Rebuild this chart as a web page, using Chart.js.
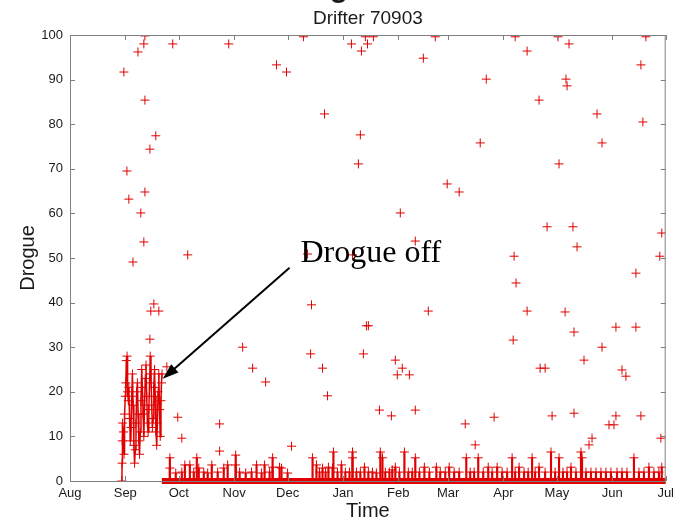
<!DOCTYPE html>
<html>
<head>
<meta charset="utf-8">
<script src="https://cdn.jsdelivr.net/npm/chart.js@4/dist/chart.umd.min.js"></script>
<style>
  body { margin: 0; background: #fff; }
  canvas { display: block; }
</style>
</head>
<body>
<canvas id="drogue-chart" width="679" height="520"></canvas>
<script>
// Drifter 70903 drogue sensor, x = days since 1 Aug

const MONTH_DAYS = [0, 31, 61, 92, 122, 153, 184, 212, 243, 273, 304, 334];
const MONTH_LABELS = ["Aug", "Sep", "Oct", "Nov", "Dec", "Jan", "Feb", "Mar", "Apr", "May", "Jun", "Jul"];
const Y_TICKS = [0, 10, 20, 30, 40, 50, 60, 70, 80, 90, 100];

// scattered readings
const scatterDays = [
  30.2, 31.9, 33.0, 35.3, 38.1, 39.7, 41.4, 42.0, 42.0, 42.0, 41.4, 44.8, 48.1, 47.0, 45.3, 49.8, 44.8,
  54.3, 57.6, 60.4, 62.7, 66.0, 83.9, 83.9, 89.0, 96.8, 102.4, 109.7, 115.8, 121.4, 124.2, 130.9,
  133.2, 158.4, 134.9, 135.4, 141.6, 142.7, 144.4, 157.8, 161.7, 162.8, 163.4, 164.5, 165.6, 166.2,
  167.3, 166.8, 170.1, 173.5, 180.2, 182.4, 183.5, 185.2, 186.3, 190.3, 193.6, 193.6, 198.1, 200.9,
  204.8, 211.5, 218.2, 221.6, 227.2, 230.0, 233.4, 237.8,
  249.6, 256.3, 263.0, 249.0, 250.1, 248.5, 256.3, 263.6, 266.4, 267.5, 270.3, 273.6, 274.2, 278.1,
  278.7, 279.8, 277.6, 282.0, 282.6, 284.3, 282.6, 288.2, 295.5, 298.3, 298.3, 306.1, 306.1, 309.5,
  311.7, 317.3, 317.3, 320.1, 320.1, 321.2, 322.9, 330.7, 331.8, 331.3, 292.7, 291.0, 302.2, 305.0
];
const scatterVals = [
  91.7, 69.5, 63.2, 49.1, 96.2, 60.1, 98.0, 99.8, 85.4, 64.8, 53.6, 74.4, 77.4, 39.7, 38.1, 38.1, 31.8,
  25.6, 98.0, 14.3, 9.6, 50.7, 12.8, 6.7, 98.0, 30.0, 25.3, 22.2, 93.3, 91.7, 7.8, 99.6,
  50.9, 50.7, 28.5, 39.5, 25.3, 82.3, 19.1, 98.0, 71.1, 77.6, 96.4, 28.5, 99.6, 34.8,
  34.8, 98.0, 99.6, 15.9, 14.6, 27.1, 23.8, 60.1, 25.3, 23.8, 53.8, 15.9, 94.8, 38.1,
  99.6, 66.6, 64.8, 12.8, 8.1, 75.8, 90.1, 14.3,
  99.6, 96.4, 85.4, 50.4, 44.4, 31.6, 38.1, 25.3, 25.3, 57.0, 14.6, 99.6, 71.1, 90.1,
  88.6, 98.0, 37.9, 57.0, 33.4, 52.5, 15.2, 27.1, 82.3, 75.8, 30.0, 34.5, 14.6, 24.9,
  23.5, 46.6, 34.5, 14.6, 93.3, 80.5, 99.6, 50.4, 55.6, 9.6, 9.6, 8.1, 12.6, 12.6
];

// early September, drogue still attached
const clusterDays = [
  29.1, 29.2, 29.3, 29.5, 30.0, 30.3, 30.6, 31.0, 31.3, 31.6, 32.0, 32.3, 32.7, 33.0, 33.4, 33.8,
  34.2, 34.6, 35.0, 35.4, 35.8, 36.2, 36.6, 37.0, 37.4, 37.8, 38.2, 38.6, 39.0, 39.4, 39.8, 40.2,
  40.6, 41.0, 41.4, 41.8, 42.2, 42.6, 43.0, 43.4, 43.8, 44.2, 44.6, 45.0, 45.4, 45.8, 46.2, 46.6,
  47.0, 47.4, 47.8, 48.2, 48.6, 49.0, 49.4, 49.8, 50.2, 50.6, 51.0, 51.3, 51.6
];
const clusterVals = [
  0, 4, 9, 13, 11, 6, 15, 19, 22, 27, 28, 20, 18, 21, 14, 9,
  12, 19, 24, 17, 8, 4, 7, 13, 20, 22, 15, 9, 6, 11, 18, 25,
  21, 15, 10, 17, 23, 26, 19, 13, 11, 16, 22, 28, 24, 17, 12, 14,
  21, 25, 19, 11, 8, 13, 20, 24, 16, 10, 18, 22, 24
];

// drogue off: readings sit on zero with small spikes
const zeroDays = [51.5, 334];
const zeroVals = [0, 0];
const spikeDays = [
  56.0, 56.0, 59.3, 62.7, 64.4, 67.2, 69.4, 71.1, 72.2, 75.0, 77.2, 79.5, 82.8, 86.2, 88.4, 92.9, 92.9,
  95.1, 98.5, 101.8, 104.6, 107.4, 109.1, 111.9, 113.6, 113.6, 117.5, 118.6, 122.0,
  136.0, 138.2, 139.9, 141.6, 143.3, 144.9, 147.2, 147.7, 150.0, 152.2, 154.4, 156.7, 158.4, 158.4,
  160.6, 162.8, 165.1, 167.3, 169.6, 171.8, 174.0, 175.2, 176.8, 179.1, 180.7, 182.4, 184.7, 187.5,
  189.7, 191.9, 193.6, 195.9, 198.7, 201.5, 205.4, 207.6, 210.4, 212.6, 215.4, 218.2, 222.2, 224.4,
  226.6, 228.9, 231.7, 234.5, 236.7, 239.5, 242.3, 245.1, 247.9, 249.6, 251.8, 254.6, 256.9, 259.1,
  260.8, 263.0, 266.4, 269.7, 272.0, 274.2, 276.4, 278.7, 280.9, 283.7, 286.5, 287.1, 289.3, 292.1,
  294.9, 297.7, 300.5, 303.3, 306.7, 309.5, 312.3, 316.2, 319.0, 321.8, 324.6, 327.4, 330.2, 331.8
];
const spikeVals = [
  5.2, 2.9, 1.8, 2.0, 3.6, 3.6, 2.0, 5.2, 2.9, 2.0, 1.8, 3.6, 2.0, 2.9, 3.6, 5.8, 3.6,
  2.0, 1.8, 2.0, 3.6, 1.8, 3.6, 2.0, 5.2, 3.1, 3.1, 2.9, 1.8,
  5.2, 3.6, 2.0, 2.9, 2.0, 3.1, 2.9, 6.5, 2.0, 3.6, 2.0, 2.0, 6.5, 5.2,
  2.0, 2.0, 3.1, 2.0, 2.0, 1.8, 6.5, 5.2, 2.0, 2.0, 2.5, 3.1, 2.0, 6.5,
  2.0, 2.0, 5.2, 2.0, 3.1, 2.0, 3.1, 2.0, 2.0, 3.1, 2.0, 2.0, 5.2, 2.0,
  2.0, 5.2, 2.0, 3.1, 2.0, 3.1, 2.0, 2.0, 5.2, 2.0, 3.1, 2.0, 2.0, 5.2,
  2.0, 3.1, 2.0, 6.5, 2.0, 5.2, 2.0, 2.0, 3.1, 2.0, 6.5, 5.2, 2.0, 2.0,
  2.0, 2.0, 2.0, 2.0, 2.0, 2.0, 2.0, 5.2, 2.0, 2.0, 3.1, 2.0, 2.0, 3.1
];

// annotation anchor points (data units)
const ARROW_TIP = [52.0, 22.9];
const ARROW_TAIL = [123.1, 47.8];
const NOTE_AT = [129.2, 49.1];

const RED = "#e00000";
const AXIS_GRAY = "#808080";
const TEXT_COLOR = "#1a1a1a";
const SANS = "'Liberation Sans', Arial, sans-serif";

const pts = (xs, ys) => xs.map((x, i) => ({ x, y: ys[i] }));

const boxTicks = {
  id: "boxTicks",
  afterDatasetsDraw(chart) {
    const { ctx, chartArea: a, scales } = chart;
    ctx.save();
    ctx.strokeStyle = AXIS_GRAY;
    ctx.lineWidth = 1;
    ctx.strokeRect(a.left + 0.5, a.top + 0.5, a.right - a.left - 1, a.bottom - a.top);
    ctx.beginPath();
    MONTH_DAYS.forEach((d) => {
      const px = Math.round(scales.x.getPixelForValue(d)) + 0.5;
      ctx.moveTo(px, a.bottom); ctx.lineTo(px, a.bottom - 5);
      ctx.moveTo(px, a.top); ctx.lineTo(px, a.top + 5);
    });
    Y_TICKS.forEach((v) => {
      const py = Math.round(scales.y.getPixelForValue(v)) + 0.5;
      ctx.moveTo(a.left, py); ctx.lineTo(a.left + 5, py);
      ctx.moveTo(a.right, py); ctx.lineTo(a.right - 5, py);
    });
    ctx.stroke();
    ctx.restore();
  },
  afterDraw(chart) {
    const { ctx, chartArea: a, scales } = chart;
    const cx = (a.left + a.right) / 2;
    ctx.save();
    ctx.fillStyle = TEXT_COLOR;
    ctx.textAlign = "center";
    ctx.textBaseline = "alphabetic";

    // bit of the slide heading cut off at the top
    ctx.font = "bold 30px " + SANS;
    ctx.fillText("g", 339, -3);

    ctx.font = "19px " + SANS;
    ctx.fillText("Drifter 70903", cx, 24);

    ctx.font = "20px " + SANS;
    ctx.fillText("Time", cx, 517);

    ctx.save();
    ctx.translate(34, (a.top + a.bottom) / 2);
    ctx.rotate(-Math.PI / 2);
    ctx.fillText("Drogue", 0, 0);
    ctx.restore();

    // "Drogue off" arrow
    const tx = scales.x.getPixelForValue(ARROW_TIP[0]);
    const ty = scales.y.getPixelForValue(ARROW_TIP[1]);
    const sx = scales.x.getPixelForValue(ARROW_TAIL[0]);
    const sy = scales.y.getPixelForValue(ARROW_TAIL[1]);
    const ang = Math.atan2(ty - sy, tx - sx);
    const head = 17;
    ctx.strokeStyle = "#000";
    ctx.fillStyle = "#000";
    ctx.lineWidth = 2;
    ctx.beginPath();
    ctx.moveTo(sx, sy);
    ctx.lineTo(tx - Math.cos(ang) * head * 0.8, ty - Math.sin(ang) * head * 0.8);
    ctx.stroke();
    ctx.beginPath();
    ctx.moveTo(tx, ty);
    ctx.lineTo(tx - head * Math.cos(ang - 0.33), ty - head * Math.sin(ang - 0.33));
    ctx.lineTo(tx - head * Math.cos(ang + 0.33), ty - head * Math.sin(ang + 0.33));
    ctx.closePath();
    ctx.fill();

    ctx.textAlign = "left";
    ctx.font = "32px 'Liberation Serif', 'Times New Roman', serif";
    ctx.fillText("Drogue off", scales.x.getPixelForValue(NOTE_AT[0]), scales.y.getPixelForValue(NOTE_AT[1]));
    ctx.restore();
  },
};

const ctx = document.getElementById("drogue-chart").getContext("2d");
new Chart(ctx, {
  type: "scatter",
  data: {
    datasets: [
      {
        type: "scatter",
        data: pts(scatterDays, scatterVals),
        pointStyle: "cross",
        pointRadius: 4.5,
        borderColor: RED,
        borderWidth: 1,
      },
      {
        type: "line",
        data: pts(clusterDays, clusterVals),
        borderColor: RED,
        borderWidth: 1.5,
        pointStyle: "cross",
        pointRadius: 4.5,
        pointBorderWidth: 1,
        tension: 0,
      },
      {
        type: "scatter",
        data: pts(spikeDays, spikeVals),
        pointStyle: "cross",
        pointRadius: 4.5,
        borderColor: RED,
        borderWidth: 1,
      },
      {
        type: "bar",
        data: pts(spikeDays, spikeVals),
        backgroundColor: RED,
        barThickness: 1.5,
        grouped: false,
      },
      {
        type: "line",
        data: pts(zeroDays, zeroVals),
        borderColor: RED,
        borderWidth: 6,
        pointRadius: 0,
        clip: false,
      },
    ],
  },
  options: {
    responsive: false,
    animation: false,
    layout: { padding: { top: 35, right: 13, left: 0, bottom: 0 } },
    plugins: { legend: { display: false }, tooltip: { enabled: false } },
    scales: {
      x: {
        type: "linear",
        min: 0,
        max: 334,
        offset: false,
        afterBuildTicks: (s) => { s.ticks = MONTH_DAYS.map((v) => ({ value: v })); },
        afterFit: (s) => { s.height = 39; },
        ticks: {
          callback: (v, i) => MONTH_LABELS[i],
          autoSkip: false,
          maxRotation: 0,
          padding: 5,
          color: TEXT_COLOR,
          font: { size: 13, family: SANS },
        },
        grid: { drawOnChartArea: false, drawTicks: false, offset: false },
        border: { color: AXIS_GRAY },
      },
      y: {
        min: 0,
        max: 100,
        afterBuildTicks: (s) => { s.ticks = Y_TICKS.map((v) => ({ value: v })); },
        afterFit: (s) => { s.width = 70; },
        ticks: {
          padding: 7,
          color: TEXT_COLOR,
          font: { size: 13, family: SANS },
        },
        grid: { drawOnChartArea: false, drawTicks: false },
        border: { color: AXIS_GRAY },
      },
    },
  },
  plugins: [boxTicks],
});
</script>
</body>
</html>
